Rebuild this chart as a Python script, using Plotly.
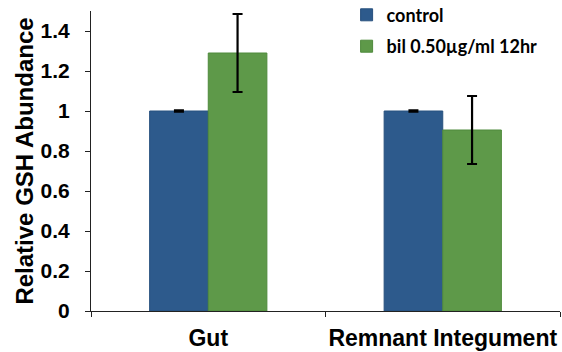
import plotly.graph_objects as go

categories = ["Gut", "Remnant Integument"]
control_vals = [1.0, 1.0]
control_err = [0.003, 0.003]
bil_vals = [1.29, 0.905]
bil_err = [0.195, 0.17]
series_names = ["control", "bil 0.50µg/ml 12hr"]
y_ticks = [0, 0.2, 0.4, 0.6, 0.8, 1, 1.2, 1.4]
y_tick_labels = ["0", "0.2", "0.4", "0.6", "0.8", "1", "1.2", "1.4"]

font_main = "Liberation Sans, Arial, sans-serif"
err_style = dict(type="data", color="black", thickness=2.2, width=5)

fig = go.Figure()
fig.add_trace(go.Bar(
    x=categories, y=control_vals, name=series_names[0], legendgroup="a",
    marker=dict(color="#2D5A8C", line=dict(color="#27507E", width=1)),
    error_y=dict(array=control_err, **err_style),
))
fig.add_trace(go.Bar(
    x=categories, y=bil_vals, name=series_names[1], legendgroup="b",
    marker=dict(color="#5E9949", line=dict(color="#4F8A3C", width=1)),
    error_y=dict(array=bil_err, **err_style),
))

fig.update_layout(
    width=562, height=352,
    margin=dict(l=91, r=2, t=11, b=41, autoexpand=False),
    paper_bgcolor="white", plot_bgcolor="white",
    barmode="group", bargap=0.5, bargroupgap=0,
    showlegend=True,
    legend=dict(
        x=0.545, y=1.048, xanchor="left", yanchor="top",
        font=dict(family="Lato, Open Sans, sans-serif", size=18, color="black", weight="bold"),
        bgcolor="rgba(0,0,0,0)", traceorder="grouped", tracegroupgap=5, itemwidth=30,
    ),
    font=dict(family=font_main, color="black"),
)
fig.update_xaxes(
    automargin=False,
    showline=True, linecolor="#222", linewidth=1,
    ticks="outside", tickson="boundaries", ticklen=5, tickcolor="#222",
    tickangle=0,
    tickfont=dict(size=23, family=font_main, color="black", weight="bold"),
    ticklabelstandoff=6,
    showgrid=False,
)
fig.update_yaxes(
    automargin=False,
    range=[0, 1.5], showline=True, linecolor="#222", linewidth=1,
    ticks="outside", ticklen=5, tickcolor="#222",
    tickvals=y_ticks, ticktext=y_tick_labels,
    tickfont=dict(size=21, family=font_main, color="black", weight="bold"),
    ticklabelstandoff=11,
    showgrid=False, zeroline=False,
    title=dict(text="Relative GSH Abundance", standoff=0,
               font=dict(size=24, family=font_main, color="black", weight="bold")),
)

fig.write_html("out.html", config={"displayModeBar": False},
               post_script="document.body.style.margin='0';")
